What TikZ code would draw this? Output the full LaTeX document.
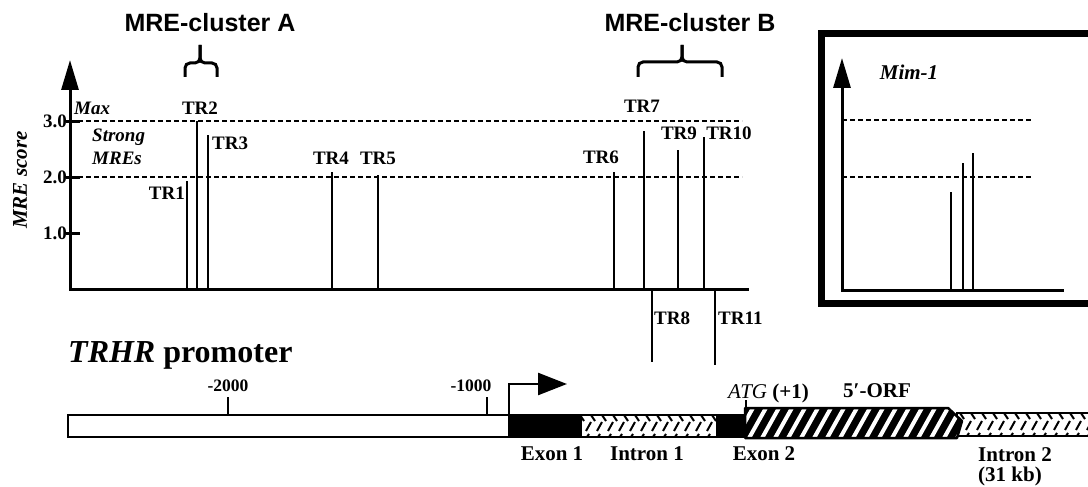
\documentclass[tikz,border=0pt]{standalone}
\usepackage{fontspec}
\setmainfont{Liberation Serif}
\setsansfont{Liberation Sans}
\usetikzlibrary{arrows.meta}

\begin{document}
\begin{tikzpicture}[x=1pt, y=-1pt,
  bar/.style={line width=2pt},
  lim/.style={line width=2pt, dash pattern=on 5pt off 3pt},
  axis/.style={line width=3pt},
  tip/.style={-{Triangle[length=30pt,width=17pt]}},
  brak/.style={line width=3pt, rounded corners=5pt},
  seg/.style={draw, line width=2.5pt},
  rope/.style={line width=2pt},
  tr/.style={font=\fontsize{19}{19}\selectfont\bfseries, inner sep=0pt},
  lbl/.style={font=\fontsize{21}{20}\selectfont\bfseries, inner sep=0pt},
  num/.style={font=\fontsize{17.5}{17.5}\selectfont\bfseries, inner sep=0pt},
  clus/.style={font=\fontsize{25}{25}\selectfont\sffamily\bfseries, inner sep=0pt}]
\useasboundingbox (0,0) rectangle (1088,487);
\coordinate (O) at (70,289);
\coordinate (M) at (842,290);

% clusters
\node[clus] (clA) at (210,23) {MRE-cluster A};
\node[clus] (clB) at (690,23) {MRE-cluster B};
\draw[brak] (185,77) -- (185,63) -- (200,63) -- (200,45);
\draw[brak] (200,45) -- (200,63) -- (217,63) -- (217,77);
\draw[brak] (638,77) -- (638,62) -- (682,62) -- (682,45);
\draw[brak] (682,45) -- (682,62) -- (722,62) -- (722,77);

% score axes
\draw[axis, tip] (O) -- (70,60);
\draw[axis, line cap=rect] (O) -- (747,289);
\draw[lim] (70,121) -- (742,121);
\draw[lim] (70,177) -- (742,177);
\draw[axis] (66,121) -- (80,121);
\draw[axis] (66,177) -- (80,177);
\draw[axis] (66,233) -- (80,233);
\node[tr, anchor=east] (s3) at (67,121) {3.0};
\node[tr, anchor=east] (s2) at (67,177) {2.0};
\node[tr, anchor=east] (s1) at (67,233) {1.0};
\node[font=\fontsize{21}{21}\selectfont\bfseries\itshape, rotate=90, inner sep=0pt] (ylab) at (20,180) {MRE score};
\node[tr, font=\fontsize{19}{19}\selectfont\bfseries\itshape, anchor=west] (max) at (74,108) {Max};
\node[tr, font=\fontsize{19}{23}\selectfont\bfseries\itshape, anchor=north west, align=left] (strong) at (92,129) {Strong\\MREs};

% MREs
\draw[bar] (187,289) -- (187,181);
\draw[bar] (197,289) -- (197,121);
\draw[bar] (208,289) -- (208,135);
\draw[bar] (332,289) -- (332,172);
\draw[bar] (378,289) -- (378,175);
\draw[bar] (614,289) -- (614,172);
\draw[bar] (644,289) -- (644,131);
\draw[bar] (678,289) -- (678,150);
\draw[bar] (704,289) -- (704,137);
\draw[bar] (652,289) -- (652,362);
\draw[bar] (715,289) -- (715,365);
\node[tr, anchor=east] (tr1) at (185,193) {TR1};
\node[tr] (tr2) at (200,108) {TR2};
\node[tr, anchor=west] (tr3) at (212,143) {TR3};
\node[tr] (tr4) at (331,158) {TR4};
\node[tr] (tr5) at (378,158) {TR5};
\node[tr] (tr6) at (601,157) {TR6};
\node[tr] (tr7) at (642,106) {TR7};
\node[tr] (tr9) at (679,133) {TR9};
\node[tr] (tr10) at (729,133) {TR10};
\node[tr, anchor=west] (tr8) at (654,318) {TR8};
\node[tr, anchor=west] (tr11) at (718,318) {TR11};

% Mim-1 panel
\draw[line width=7pt] (821,33.5) rectangle (1100,303.5);
\draw[axis, tip] (M) -- (842,58);
\draw[axis, line cap=rect] (M) -- (1062,290);
\draw[lim] (842,120) -- (1032,120);
\draw[lim] (842,177) -- (1032,177);
\draw[bar] (951,290) -- (951,192);
\draw[bar] (963,290) -- (963,163);
\draw[bar] (973,290) -- (973,153);
\node[font=\fontsize{21}{21}\selectfont\bfseries\itshape, inner sep=0pt] (mim) at (909,72) {Mim-1};

% promoter map
\node[font=\fontsize{32}{32}\selectfont\bfseries, anchor=base west, inner sep=0pt] (title) at (68,362) {\textit{TRHR} promoter};
\draw[seg, fill=white] (68,415) rectangle (509,437);
\draw[line width=2.5pt] (228,415) -- (228,397);
\draw[line width=2.5pt] (487,415) -- (487,397);
\node[num, anchor=base] (m2000) at (228,391) {-2000};
\node[num, anchor=base] (m1000) at (471,391) {-1000};
\draw[seg, fill=black] (509,415) rectangle (581,437);
\draw[seg, fill=white] (581,415) rectangle (717,437);
\begin{scope}
  \clip (581,415) rectangle (717,437);
  \foreach \x in {575,586,...,720}
    \draw[rope] (\x,431) -- (\x+5,422) (\x+5,415) -- (\x+9,421) (\x+1,437) -- (\x+3,434);
\end{scope}
\draw[seg] (581,415) rectangle (717,437);
\draw[seg, fill=black] (717,415) rectangle (745,437);
\draw[seg, fill=white] (957,413) rectangle (1095,436);
\begin{scope}
  \clip (957,413) rectangle (1095,436);
  \foreach \x in {955,966,...,1095}
    \draw[rope] (\x,430) -- (\x+5,421) (\x+5,413) -- (\x+9,419) (\x+1,436) -- (\x+3,433);
\end{scope}
\draw[seg] (957,413) rectangle (1095,436);
\begin{scope}
  \clip (745,408) -- (948,408) -- (962,421) -- (957,438) -- (745,438) -- cycle;
  \fill (745,405) rectangle (965,440);
  \foreach \x in {735,748,...,965}
    \draw[white, line width=4pt] (\x,440) -- (\x+19,406);
\end{scope}
\draw[line width=2.5pt, line join=round] (745,408) -- (948,408) -- (962,421) -- (957,438) -- (745,438) -- cycle;
\draw[line width=2pt] (746,408) -- (746,400);
\draw[line width=2.5pt, -{Triangle[length=29pt,width=22pt]}] (509,415) |- (567,384);
\node[lbl, anchor=base west] (atg) at (728,398) {\textmd{\textit{ATG}} (+1)};
\node[lbl, anchor=base west] (orf) at (843,397) {5′-ORF};
\node[lbl, anchor=base] (ex1) at (552,460) {Exon 1};
\node[lbl, anchor=base] (in1) at (647,460) {Intron 1};
\node[lbl, anchor=base] (ex2) at (764,460) {Exon 2};
\node[lbl, anchor=north west, align=left] (in2) at (978,447) {Intron 2\\(31 kb)};
\end{tikzpicture}
\end{document}
